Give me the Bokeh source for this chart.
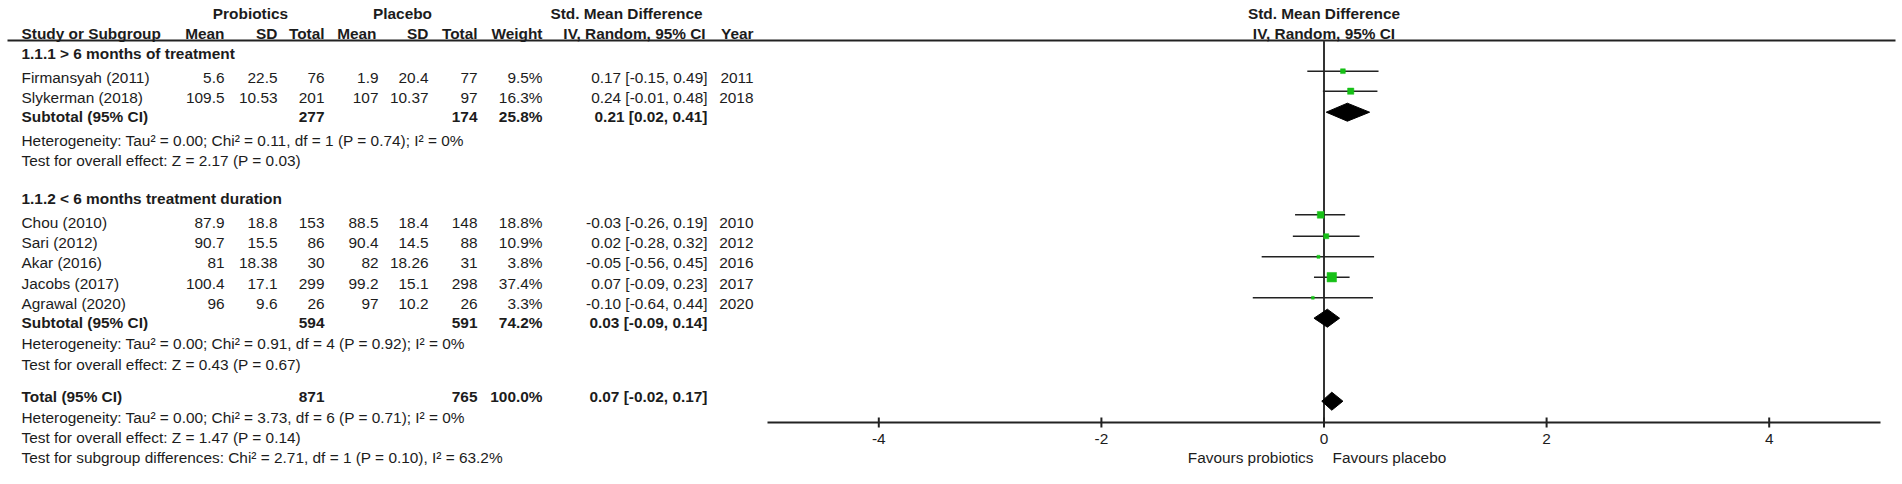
import math
from bokeh.plotting import figure
from bokeh.models import Range1d, ColumnDataSource, LabelSet
from bokeh.core.properties import value
from bokeh.embed import file_html
from bokeh.resources import INLINE

# ---------------- data ----------------
studies = ["Firmansyah (2011)", "Slykerman (2018)", "Chou (2010)", "Sari (2012)",
           "Akar (2016)", "Jacobs (2017)", "Agrawal (2020)"]
pro_mean = [5.6, 109.5, 87.9, 90.7, 81, 100.4, 96]
pro_sd = [22.5, 10.53, 18.8, 15.5, 18.38, 17.1, 9.6]
pro_n = [76, 201, 153, 86, 30, 299, 26]
pla_mean = [1.9, 107, 88.5, 90.4, 82, 99.2, 97]
pla_sd = [20.4, 10.37, 18.4, 14.5, 18.26, 15.1, 10.2]
pla_n = [77, 97, 148, 88, 31, 298, 26]
weight = [9.5, 16.3, 18.8, 10.9, 3.8, 37.4, 3.3]
smd = [0.17, 0.24, -0.03, 0.02, -0.05, 0.07, -0.10]
ci_lo = [-0.15, -0.01, -0.26, -0.28, -0.56, -0.09, -0.64]
ci_hi = [0.49, 0.48, 0.19, 0.32, 0.45, 0.23, 0.44]
years = [2011, 2018, 2010, 2012, 2016, 2017, 2020]

sections = ["1.1.1 > 6 months of treatment", "1.1.2 < 6 months treatment duration"]
sub_names = ["Subtotal (95% CI)", "Subtotal (95% CI)", "Total (95% CI)"]
sub_pro_n = [277, 594, 871]
sub_pla_n = [174, 591, 765]
sub_weight = [25.8, 74.2, 100.0]
sub_smd = [0.21, 0.03, 0.07]
sub_lo = [0.02, -0.09, -0.02]
sub_hi = [0.41, 0.14, 0.17]

stats = [
    "Heterogeneity: Tau\u00b2 = 0.00; Chi\u00b2 = 0.11, df = 1 (P = 0.74); I\u00b2 = 0%",
    "Test for overall effect: Z = 2.17 (P = 0.03)",
    "Heterogeneity: Tau\u00b2 = 0.00; Chi\u00b2 = 0.91, df = 4 (P = 0.92); I\u00b2 = 0%",
    "Test for overall effect: Z = 0.43 (P = 0.67)",
    "Heterogeneity: Tau\u00b2 = 0.00; Chi\u00b2 = 3.73, df = 6 (P = 0.71); I\u00b2 = 0%",
    "Test for overall effect: Z = 1.47 (P = 0.14)",
    "Test for subgroup differences: Chi\u00b2 = 2.71, df = 1 (P = 0.10), I\u00b2 = 63.2%",
]

tick_values = [-4, -2, 0, 2, 4]
tick_labels = ["-4", "-2", "0", "2", "4"]
axis_limits = (-5, 5)
favours = ["Favours probiotics", "Favours placebo"]

# ---------------- layout (pixel positions) ----------------
W, H = 1902, 484
AX_L, AX_R = 767, 1880          # pixel span of axis_limits
UNIT = (AX_R - AX_L) / (axis_limits[1] - axis_limits[0])
ZERO = AX_L - axis_limits[0] * UNIT
AX_Y = 422
TICK_HALF = 5

# text rows
study_y = [77, 97, 222, 242, 262, 283, 303]
section_y = [53, 198]
sub_y = [116, 322, 396]
stats_y = [140, 160, 343, 364, 417, 437, 457]
HEAD1_Y, HEAD2_Y, RULE_Y = 13, 33, 40
TICKLAB_Y, FAV_Y = 438, 457
# forest rows
mark_y = [70.7, 90.7, 214.3, 235.7, 256.3, 276.7, 297.3]
diamond_y = [111.7, 317.7, 400.7]

C_NAME = 21
C_PM, C_PS, C_PN = 224, 277, 324
C_QM, C_QS, C_QN = 378, 428, 477
C_W, C_CI, C_YR = 542, 707, 753

FONT = "Liberation Sans"
FS = "15.4px"
TXT = "#1c1c1c"
GREEN = "#16c016"
LINE = "#222222"
DIAMOND_HALF = 9
SQUARE_K = 1.55

p = figure(width=W, height=H, output_backend="svg", toolbar_location=None,
           x_range=Range1d(0, W), y_range=Range1d(H, 0),
           x_axis_type=None, y_axis_type=None,
           min_border_left=0, min_border_right=0, min_border_top=0, min_border_bottom=0)
p.outline_line_color = None
p.background_fill_color = "white"
p.extra_x_ranges = {"smd": Range1d((0 - ZERO) / UNIT, (W - ZERO) / UNIT)}

# ---------------- text cells ----------------
cells = {}


def add(x, y, t, align="left", bold=False, xr="default", dx=0):
    d = cells.setdefault((align, bold, xr, dx), {"x": [], "y": [], "t": []})
    d["x"].append(x)
    d["y"].append(y)
    d["t"].append(t)


def fmt(v):
    return f"{v:g}"


# headers
add(250, HEAD1_Y, "Probiotics", "center", True)
add(402, HEAD1_Y, "Placebo", "center", True)
add(626, HEAD1_Y, "Std. Mean Difference", "center", True)
add(0, HEAD1_Y, "Std. Mean Difference", "center", True, "smd")
add(C_NAME, HEAD2_Y, "Study or Subgroup", "left", True)
for x, t in [(C_PM, "Mean"), (C_PS, "SD"), (C_PN, "Total"), (C_QM - 2, "Mean"),
             (C_QS, "SD"), (C_QN, "Total"), (C_W, "Weight"), (C_YR, "Year")]:
    add(x, HEAD2_Y, t, "right", True)
add(634, HEAD2_Y, "IV, Random, 95% CI", "center", True)
add(0, HEAD2_Y, "IV, Random, 95% CI", "center", True, "smd")

for t, y in zip(sections, section_y):
    add(C_NAME, y, t, "left", True)

for i, y in enumerate(study_y):
    add(C_NAME, y, studies[i])
    add(C_PM, y, fmt(pro_mean[i]), "right")
    add(C_PS, y, fmt(pro_sd[i]), "right")
    add(C_PN, y, str(pro_n[i]), "right")
    add(C_QM, y, fmt(pla_mean[i]), "right")
    add(C_QS, y, fmt(pla_sd[i]), "right")
    add(C_QN, y, str(pla_n[i]), "right")
    add(C_W, y, f"{weight[i]:.1f}%", "right")
    add(C_CI, y, f"{smd[i]:.2f} [{ci_lo[i]:.2f}, {ci_hi[i]:.2f}]", "right")
    add(C_YR, y, str(years[i]), "right")

for i, y in enumerate(sub_y):
    add(C_NAME, y, sub_names[i], "left", True)
    add(C_PN, y, str(sub_pro_n[i]), "right", True)
    add(C_QN, y, str(sub_pla_n[i]), "right", True)
    add(C_W, y, f"{sub_weight[i]:.1f}%", "right", True)
    add(C_CI, y, f"{sub_smd[i]:.2f} [{sub_lo[i]:.2f}, {sub_hi[i]:.2f}]", "right", True)

for t, y in zip(stats, stats_y):
    add(C_NAME, y, t)

# axis tick labels and favours labels
for v, l in zip(tick_values, tick_labels):
    add(v, TICKLAB_Y, l, "center", False, "smd")
add(0, FAV_Y, favours[0], "right", False, "smd", -10.5)
add(0, FAV_Y, favours[1], "left", False, "smd", 8.5)

# ---------------- lines & marks ----------------
p.segment(x0=[7], y0=[RULE_Y], x1=[1895], y1=[RULE_Y], line_color=LINE, line_width=1.8)
p.segment(x0=[0], y0=[RULE_Y], x1=[0], y1=[AX_Y], x_range_name="smd",
          line_color="#333333", line_width=2)

src = ColumnDataSource(dict(y=mark_y, m=smd, lo=ci_lo, hi=ci_hi,
                            s=[SQUARE_K * math.sqrt(w) for w in weight]))
p.segment(x0="lo", y0="y", x1="hi", y1="y", source=src, x_range_name="smd",
          line_color=LINE, line_width=1.6)
p.scatter(x="m", y="y", size="s", marker="square", source=src, x_range_name="smd",
          fill_color=GREEN, line_color=GREEN, line_width=0.5)

p.patches(xs=[[l, m, h, m] for l, m, h in zip(sub_lo, sub_smd, sub_hi)],
          ys=[[y, y - DIAMOND_HALF, y, y + DIAMOND_HALF] for y in diamond_y],
          x_range_name="smd", fill_color="black", line_color="black", line_width=1)

# axis (drawn through the smd scale)
p.segment(x0=[axis_limits[0]], y0=[AX_Y], x1=[axis_limits[1]], y1=[AX_Y],
          x_range_name="smd", line_color=LINE, line_width=2)
p.segment(x0=tick_values, y0=[AX_Y - TICK_HALF] * len(tick_values),
          x1=tick_values, y1=[AX_Y + TICK_HALF] * len(tick_values),
          x_range_name="smd", line_color=LINE, line_width=2)

for (align, bold, xr, dx), d in cells.items():
    p.add_layout(LabelSet(x="x", y="y", text="t", source=ColumnDataSource(d),
                          x_range_name=xr, x_offset=dx, text_align=align,
                          text_baseline="middle",
                          text_font=value(FONT), text_font_size=value(FS),
                          text_font_style=value("bold" if bold else "normal"),
                          text_color=value(TXT)))

open("out.html", "w").write(file_html(p, INLINE))
